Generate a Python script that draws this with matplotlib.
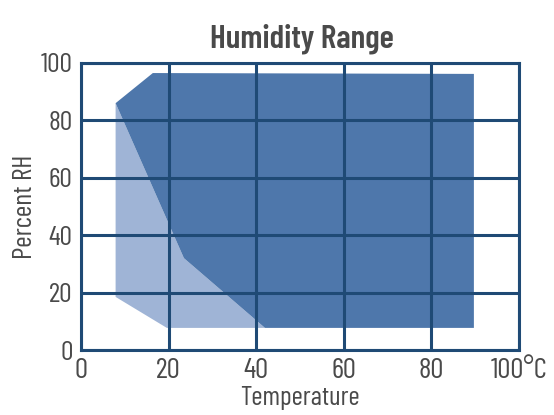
import matplotlib.pyplot as plt
from matplotlib import font_manager

# humidity range chart
light_t = [7.9, 7.9, 19.6, 42.0, 23.5, 7.9]
light_rh = [86, 18.5, 7.7, 7.7, 32, 86]
dark_t = [7.9, 16.4, 89.7, 89.7, 42.0, 23.5]
dark_rh = [86, 96.5, 96.2, 7.7, 7.7, 32]
ticks = [0, 20, 40, 60, 80, 100]
xlabels = ['0', '20', '40', '60', '80', '100°C']
ylabels = ['0', '20', '40', '60', '80', '100']

names = {f.name for f in font_manager.fontManager.ttflist}
fams = [f for f in ['Barlow Condensed', 'Roboto Condensed'] if f in names]
plt.rcParams['font.family'] = fams + ['DejaVu Sans']

navy = '#1f4a75'
txt = '#4a4a4a'

fig = plt.figure(figsize=(5.54, 4.15), dpi=100)
ax = fig.add_axes([81/554, 1-350/415, 438/554, 287/415])

ax.fill(light_t, light_rh, color='#9fb4d6', lw=0, zorder=1)
ax.fill(dark_t, dark_rh, color='#4e77ab', lw=0, zorder=2)

ax.set_xlim(0, 100)
ax.set_ylim(0, 100)
ax.set_xticks(ticks)
ax.set_yticks(ticks)
ax.set_xticklabels(xlabels, fontsize=21, color=txt)
ax.set_yticklabels(ylabels, fontsize=20, color=txt)
ax.tick_params(length=0)
ax.tick_params(axis='x', pad=6)
ax.tick_params(axis='y', pad=6)
ax.grid(True, color=navy, lw=2.2, zorder=3)
ax.set_axisbelow(False)
for s in ax.spines.values():
    s.set_color(navy)
    s.set_linewidth(2.2)
    s.set_zorder(4)

ax.set_xlabel('Temperature', fontsize=19.5, color=txt, labelpad=1)
ax.set_ylabel('Percent RH', fontsize=20, color=txt, labelpad=3)
fig.text(0.545, 0.885, 'Humidity Range', fontsize=24, fontweight='semibold',
         color=txt, ha='center')

fig.savefig('out.png', dpi=100)
